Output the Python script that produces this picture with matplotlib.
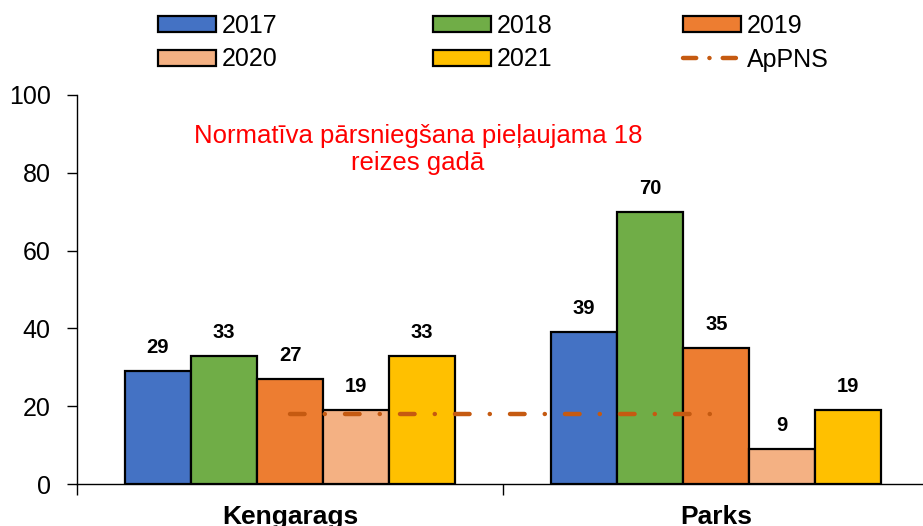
import matplotlib
matplotlib.use("Agg")
import matplotlib.pyplot as plt
from matplotlib.lines import Line2D
import numpy as np

plt.rcParams['font.family'] = ['Liberation Sans', 'DejaVu Sans']
plt.rcParams['lines.scale_dashes'] = False

stations = ['Kengarags', 'Parks']
years = ['2017', '2018', '2019', '2020', '2021']
counts = {
    '2017': [29, 39],
    '2018': [33, 70],
    '2019': [27, 35],
    '2020': [19, 9],
    '2021': [33, 19],
}
colors = ['#4472C4', '#70AD47', '#ED7D31', '#F4B183', '#FFC000']
limit_value = 18
limit_label = 'ApPNS'
note = 'Normatīva pārsniegšana pieļaujama 18\nreizes gadā'

fig = plt.figure(figsize=(9.23, 5.26), dpi=100)
ax = fig.add_axes([77 / 923, 42 / 526, 1 - 77 / 923, 389 / 526])

x = np.arange(len(stations))
width = 0.155
handles = []
for i, yr in enumerate(years):
    offs = (i - 2) * width
    bars = ax.bar(x + offs, counts[yr], width, color=colors[i],
                  edgecolor='black', linewidth=1.6, label=yr, zorder=2)
    ax.bar_label(bars, padding=10, fontsize=14.5, fontweight='bold')
    handles.append(bars)

ax.plot(x, [limit_value] * len(x), color='#C55A11', linewidth=3.2,
        linestyle=(0, [10.5, 14.5, 0.1, 14.5]), dash_capstyle='round',
        zorder=3)

ax.set_ylim(0, 100)
ax.set_xlim(-0.5, 1.485)
ax.set_yticks(range(0, 101, 20))
ax.tick_params(axis='y', labelsize=18, length=7, width=1, direction='out', pad=12)
ax.set_xticks(x)
ax.set_xticklabels(stations, fontsize=19, fontweight='bold')
ax.tick_params(axis='x', length=0, pad=15)
ax.set_xticks([-0.5, 0.5], minor=True)
ax.tick_params(axis='x', which='minor', length=8, width=1)

for s in ['top', 'right']:
    ax.spines[s].set_visible(False)
ax.spines['left'].set_linewidth(1)
ax.spines['bottom'].set_linewidth(1)

ax.text(0.3, 86, note, color='#FF0000', fontsize=18.5, ha='center', va='center',
        linespacing=1.15)

line_handle = Line2D([], [], color='#C55A11', linewidth=3.2,
                     linestyle=(0, [9.5, 9.5, 0.1, 9.5]), dash_capstyle='round')

# one legend per column, the columns are not evenly spaced in the original
all_h = handles + [line_handle]
all_l = years + [limit_label]
col_x = [158, 433, 683]
for c in range(3):
    fig.legend([all_h[c], all_h[c + 3]], [all_l[c], all_l[c + 3]],
               loc='upper left', bbox_to_anchor=(col_x[c] / 923, 1 - 14 / 526),
               ncol=1, frameon=False, fontsize=18, handlelength=2.3,
               handleheight=0.6, handletextpad=0.25,
               labelspacing=0.38, borderpad=0, borderaxespad=0)

fig.savefig('out.png', dpi=100)
